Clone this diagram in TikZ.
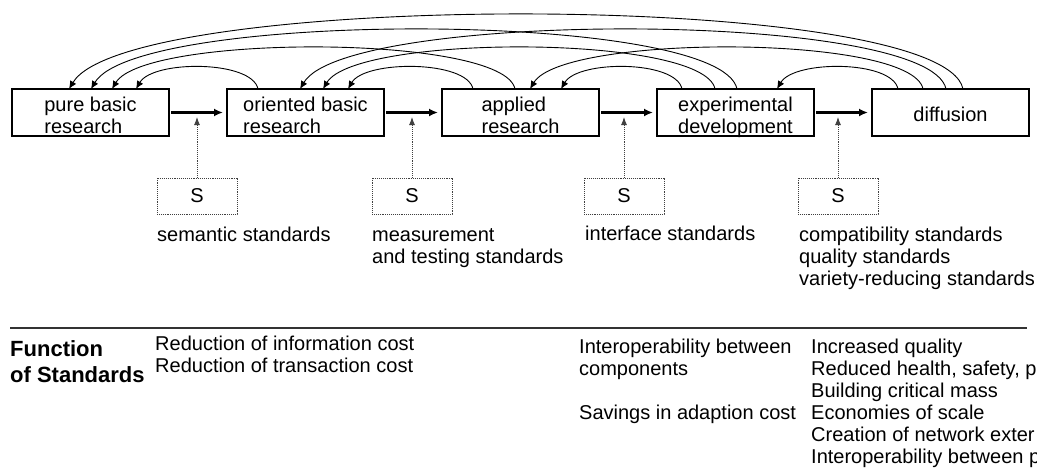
\documentclass[tikz,border=0pt]{standalone}
\usepackage{fontspec}
\setmainfont{Liberation Sans}
\usetikzlibrary{arrows.meta}
\usetikzlibrary{positioning}

\begin{document}
\begin{tikzpicture}[x=1pt,y=-1pt]
\tikzstyle{stage}=[rectangle, draw=black, line width=1.4pt, outer sep=0pt, minimum width=157pt, minimum height=47pt, inner sep=0pt, align=left, text height=41pt, text depth=0pt, node distance=58pt, font=\fontsize{20}{22}\selectfont]
\tikzstyle{flow}=[-{Latex[length=9pt,width=8pt]}, line width=2.2pt, shorten <=2pt, shorten >=4pt]
\tikzstyle{back}=[-{Latex[length=8pt,width=7pt]}, line width=0.9pt]
\tikzstyle{sbox}=[rectangle, draw=black!75, densely dotted, line width=0.9pt, minimum width=80pt, minimum height=36pt, font=\fontsize{20}{22}\selectfont]
\tikzstyle{dotup}=[-{Latex[length=8pt,width=6pt]}, densely dotted, line width=0.9pt, draw=black!75]
\tikzstyle{lbl}=[anchor=base west, inner sep=0pt, align=left, font=\fontsize{20}{22}\selectfont]
  \useasboundingbox (0,0) rectangle (1037,469);
  % stages of the chain
  \node[stage] (pure) at (90.5,112.5) {pure basic\\research};
  \node[stage] (oriented) [right=of pure] {oriented basic\\research};
  \node[stage] (applied) [right=of oriented] {applied\\research};
  \node[stage] (experimental) [right=of applied] {experimental\\development};
  \node[stage, text height=17pt] (diffusion) [right=of experimental] {diffusion};
  \path (pure) edge [flow] (oriented)
        (oriented) edge [flow] (applied)
        (applied) edge [flow] (experimental)
        (experimental) edge [flow] (diffusion);
  % feedback loops
  \draw[back] ([xshift=31pt]oriented.north west) .. controls +(-6,-29) and +(17,-29) .. ([xshift=124pt]pure.north west);
  \draw[back] ([xshift=31pt]applied.north west) .. controls +(-6,-29) and +(17,-29) .. ([xshift=121pt]oriented.north west);
  \draw[back] ([xshift=25pt]experimental.north west) .. controls +(-6,-29) and +(17,-29) .. ([xshift=119pt]applied.north west);
  \draw[back] ([xshift=26pt]diffusion.north west) .. controls +(-6,-29) and +(17,-29) .. ([xshift=120pt]experimental.north west);
  \draw[back] ([xshift=73pt]applied.north west) .. controls +(-11,-55) and +(33,-55) .. ([xshift=100pt]pure.north west);
  \draw[back] ([xshift=58pt]experimental.north west) .. controls +(-11,-55) and +(33,-55) .. ([xshift=96pt]oriented.north west);
  \draw[back] ([xshift=51pt]diffusion.north west) .. controls +(-11,-55) and +(33,-55) .. ([xshift=88pt]applied.north west);
  \draw[back] ([xshift=80pt]experimental.north west) .. controls +(-16,-79) and +(47,-79) .. ([xshift=79pt]pure.north west);
  \draw[back] ([xshift=74pt]diffusion.north west) .. controls +(-16,-79) and +(47,-79) .. ([xshift=73pt]oriented.north west);
  \draw[back] ([xshift=91pt]diffusion.north west) .. controls +(-20,-99) and +(60,-99) .. ([xshift=57pt]pure.north west);
  % standards
  \coordinate (tip) at (0,117);
  \node[sbox] (s1) at (197,196) {S};
  \node[sbox] (s2) at (412,196) {S};
  \node[sbox] (s3) at (624,196) {S};
  \node[sbox] (s4) at (838,196) {S};
  \draw[dotup] (s1) -- (s1 |- tip);
  \draw[dotup] (s2) -- (s2 |- tip);
  \draw[dotup] (s3) -- (s3 |- tip);
  \draw[dotup] (s4) -- (s4 |- tip);
  \node[lbl] (semantic) at (157,241) {semantic standards};
  \node[lbl] (measurement) at (372,263) {measurement\\and testing standards};
  \node[lbl] (interface) at (585,240) {interface standards};
  \node[lbl] (compatibility) at (799,285) {compatibility standards\\quality standards\\variety-reducing standards};
  % functions
  \draw[line width=1.2pt, black!80] (10,328) -- (1027,328);
  \node[lbl, font=\fontsize{22}{26}\selectfont\bfseries] (function) at (10,382) {Function\\of Standards};
  \node[lbl] (costs) at (155,372) {Reduction of information cost\\Reduction of transaction cost};
  \node[lbl] (interop) at (579,419) {Interoperability between\\components\\[22pt]Savings in adaption cost};
  \node[lbl] (effects) at (811,463) {Increased quality\\Reduced health, safety, p\\Building critical mass\\Economies of scale\\Creation of network exter\\Interoperability between p};
\end{tikzpicture}
\end{document}
